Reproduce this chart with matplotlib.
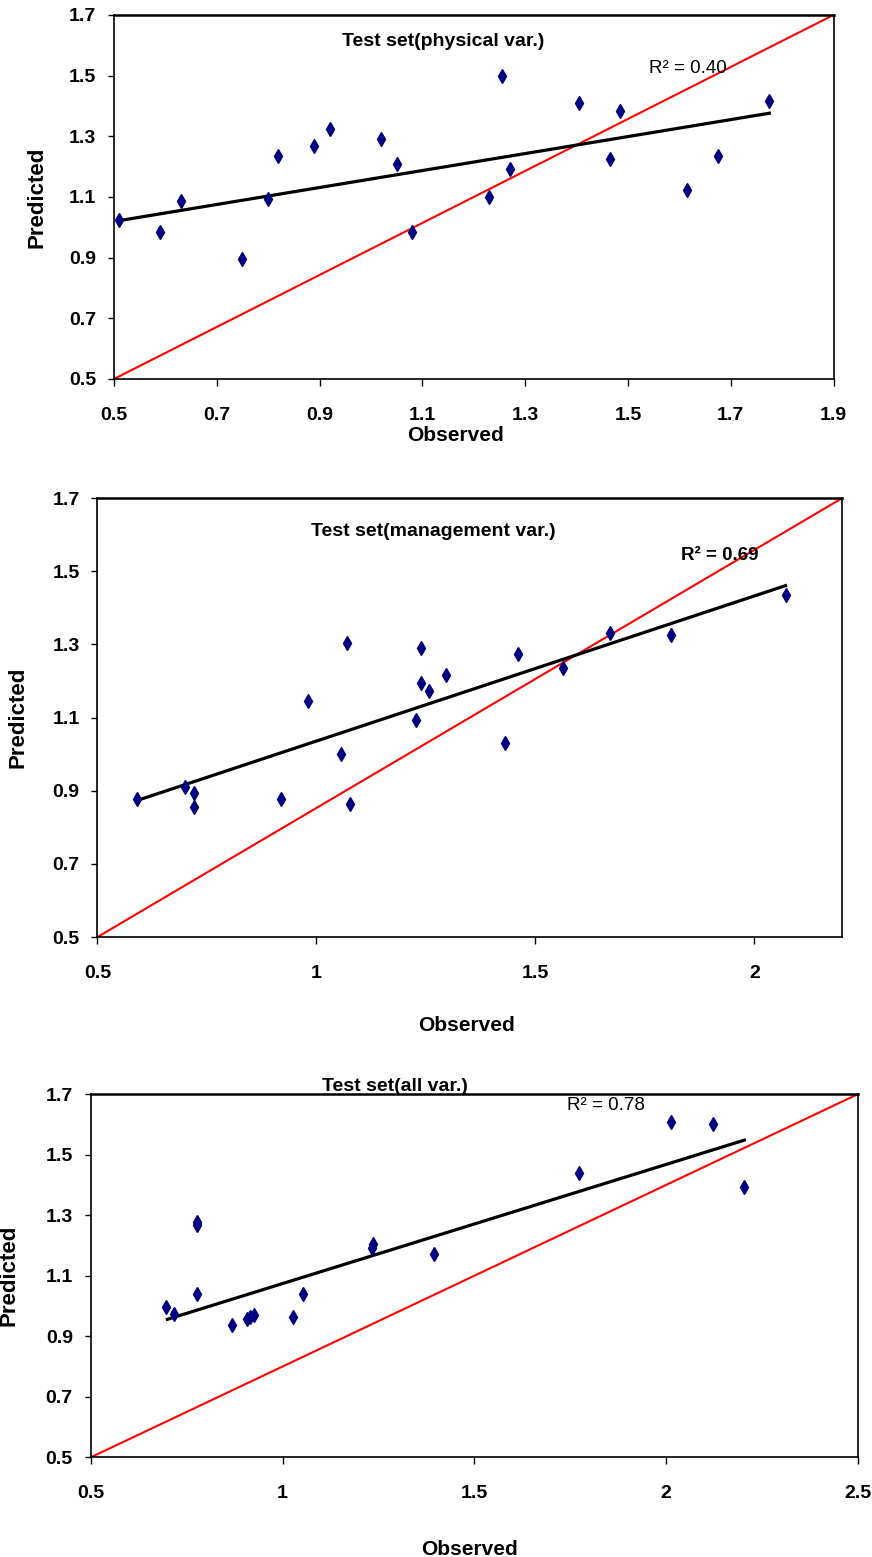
import matplotlib
matplotlib.use('Agg')
import matplotlib.pyplot as plt
from matplotlib import font_manager

plt.rcParams['font.family'] = ['Liberation Sans', 'DejaVu Sans']

# titles look condensed in the original; use the narrow face if it is there
names = {f.name for f in font_manager.fontManager.ttflist}
title_family = ['Liberation Sans Narrow'] if 'Liberation Sans Narrow' in names else ['Liberation Sans']
title_size = 16 if 'Liberation Sans Narrow' in names else 14

# --- panel 1: physical variables ---
phys_obs = [0.51, 0.59, 0.63, 0.75, 0.80, 0.82, 0.89, 0.92, 1.02, 1.05,
            1.08, 1.23, 1.255, 1.27, 1.405, 1.465, 1.485, 1.615, 1.675, 1.775]
phys_pred = [1.024, 0.984, 1.088, 0.896, 1.092, 1.235, 1.269, 1.323, 1.290, 1.208,
             0.984, 1.099, 1.499, 1.192, 1.409, 1.224, 1.384, 1.122, 1.235, 1.417]
phys_trend_x = [0.51, 1.775]
phys_trend_y = [1.022, 1.376]

# --- panel 2: management variables ---
mgmt_obs = [0.590, 0.700, 0.721, 0.721, 0.918, 0.981, 1.069, 1.057, 1.077, 1.239,
            1.239, 1.256, 1.227, 1.296, 1.430, 1.461, 1.562, 1.670, 1.810, 2.071]
mgmt_pred = [0.877, 0.909, 0.893, 0.856, 0.877, 1.146, 1.305, 1.000, 0.864, 1.291,
             1.194, 1.174, 1.094, 1.217, 1.031, 1.274, 1.236, 1.332, 1.326, 1.434]
mgmt_trend_x = [0.592, 2.071]
mgmt_trend_y = [0.874, 1.461]

# --- panel 3: all variables ---
all_obs = [0.697, 0.718, 0.776, 0.778, 0.776, 0.868, 0.907, 0.915, 0.926, 1.028,
           1.054, 1.234, 1.236, 1.396, 1.772, 2.013, 2.122, 2.204]
all_pred = [0.997, 0.973, 1.268, 1.278, 1.039, 0.937, 0.956, 0.965, 0.970, 0.964,
            1.039, 1.192, 1.204, 1.172, 1.438, 1.608, 1.600, 1.394]
all_trend_x = [0.700, 2.204]
all_trend_y = [0.956, 1.548]

y_ticks = [0.5, 0.7, 0.9, 1.1, 1.3, 1.5, 1.7]
y_labels = ['0.5', '0.7', '0.9', '1.1', '1.3', '1.5', '1.7']

panels = [
    dict(obs=phys_obs, pred=phys_pred, tx=phys_trend_x, ty=phys_trend_y,
         xlim=[0.5, 1.9], ylim=[0.5, 1.7],
         xticks=[0.5, 0.7, 0.9, 1.1, 1.3, 1.5, 1.7, 1.9],
         xlabels=['0.5', '0.7', '0.9', '1.1', '1.3', '1.5', '1.7', '1.9'],
         rect=[0.1307, 0.7566, 0.8252, 0.2338],
         title='Test set(physical var.)', title_xy=(1.141, 1.612),
         r2='R² = 0.40', r2_xy=(1.616, 1.524), r2_bold=False,
         obs_xy=(0.474, -0.128)),
    dict(obs=mgmt_obs, pred=mgmt_pred, tx=mgmt_trend_x, ty=mgmt_trend_y,
         xlim=[0.5, 2.2], ylim=[0.5, 1.7],
         xticks=[0.5, 1.0, 1.5, 2.0],
         xlabels=['0.5', '1', '1.5', '2'],
         rect=[0.1118, 0.3982, 0.8538, 0.2818],
         title='Test set(management var.)', title_xy=(1.267, 1.608),
         r2='R² = 0.69', r2_xy=(1.92, 1.544), r2_bold=True,
         obs_xy=(0.496, -0.179)),
    dict(obs=all_obs, pred=all_pred, tx=all_trend_x, ty=all_trend_y,
         xlim=[0.5, 2.5], ylim=[0.5, 1.7],
         xticks=[0.5, 1.0, 1.5, 2.0, 2.5],
         xlabels=['0.5', '1', '1.5', '2', '2.5'],
         rect=[0.1040, 0.0640, 0.8799, 0.2333],
         title='Test set(all var.)', title_xy=(1.294, 1.724),
         r2='R² = 0.78', r2_xy=(1.842, 1.664), r2_bold=False,
         obs_xy=(0.494, -0.228)),
]

fig = plt.figure(figsize=(8.72, 15.57), dpi=100)

for p in panels:
    ax = fig.add_axes(p['rect'])
    # 1:1 reference line, corner to corner
    ax.plot(p['xlim'], p['ylim'], color='#FF0000', lw=1.5, zorder=2)
    ax.plot(p['tx'], p['ty'], color='black', lw=2.3, zorder=3)
    ax.plot(p['obs'], p['pred'], linestyle='none', marker='d', ms=7.5,
            color='#000080', zorder=4)

    ax.set_xlim(p['xlim'])
    ax.set_ylim(p['ylim'])
    ax.set_xticks(p['xticks'])
    ax.set_xticklabels(p['xlabels'])
    ax.set_yticks(y_ticks)
    ax.set_yticklabels(y_labels)
    ax.tick_params(axis='y', direction='out', length=4.5, width=1, pad=8.4,
                   labelsize=14)
    ax.tick_params(axis='x', direction='out', length=5, width=1, pad=15,
                   labelsize=14)
    for lab in ax.get_xticklabels() + ax.get_yticklabels():
        lab.set_fontweight('bold')
    for s in ax.spines.values():
        s.set_linewidth(1.2)
        s.set_color('black')
    ax.spines['top'].set_linewidth(1.8)

    ax.set_xlabel('Observed', fontsize=15, fontweight='bold')
    ax.xaxis.set_label_coords(*p['obs_xy'])
    ax.set_ylabel('Predicted', fontsize=16, fontweight='bold')
    ax.yaxis.set_label_coords(-0.093, 0.5)

    ax.text(p['title_xy'][0], p['title_xy'][1], p['title'], fontsize=title_size,
            family=title_family, fontweight='bold', ha='center', va='center',
            zorder=6, clip_on=False)
    ax.text(p['r2_xy'][0], p['r2_xy'][1], p['r2'], fontsize=13.5,
            fontweight='bold' if p['r2_bold'] else 'normal',
            ha='center', va='center', zorder=6)

fig.savefig('out.png', dpi=100)
